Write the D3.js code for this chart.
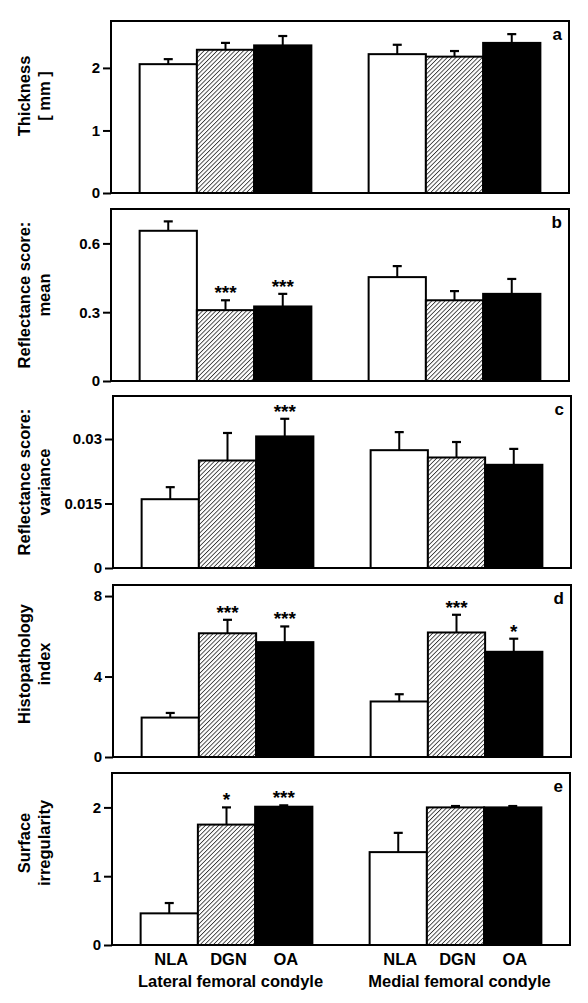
<!DOCTYPE html>
<html>
<head>
<meta charset="utf-8">
<script src="https://cdn.jsdelivr.net/npm/d3@7"></script>
<style>
  html, body { margin: 0; padding: 0; background: #fff; }
  svg { display: block; }
  text { font-family: "Liberation Sans", Arial, sans-serif; font-weight: bold; fill: #000; }
</style>
</head>
<body>
<script>
// ---------------- data ----------------
const categories = ["NLA", "DGN", "OA"];
const sites = ["Lateral femoral condyle", "Medial femoral condyle"];
const panelLetters = ["a", "b", "c", "d", "e"];
const yLabels = [
  ["Thickness", "[ mm ]"],
  ["Reflectance score:", "mean"],
  ["Reflectance score:", "variance"],
  ["Histopathology", "index"],
  ["Surface", "irregularity"]
];
const yMax = [2.75, 0.75, 0.04, 8.55, 2.5];
const yTicks = [
  [0, 1, 2],
  [0, 0.3, 0.6],
  [0, 0.015, 0.03],
  [0, 4, 8],
  [0, 1, 2]
];
const yTickLabels = [
  ["0", "1", "2"],
  ["0", "0.3", "0.6"],
  ["0", "0.015", "0.03"],
  ["0", "4", "8"],
  ["0", "1", "2"]
];
// means [lateral, medial] per panel
const thicknessMean   = [[2.06, 2.29, 2.36], [2.22, 2.18, 2.40]];
const thicknessErr    = [[0.08, 0.11, 0.15], [0.15, 0.09, 0.14]];
const reflMean        = [[0.655, 0.309, 0.325], [0.453, 0.352, 0.380]];
const reflMeanErr     = [[0.041, 0.043, 0.055], [0.048, 0.040, 0.065]];
const reflVar         = [[0.0160, 0.0250, 0.0306], [0.0274, 0.0257, 0.0240]];
const reflVarErr      = [[0.0028, 0.0064, 0.0041], [0.0042, 0.0036, 0.0037]];
const histoIndex      = [[1.96, 6.15, 5.71], [2.76, 6.19, 5.23]];
const histoIndexErr   = [[0.23, 0.67, 0.78], [0.36, 0.88, 0.65]];
const surfaceIrr      = [[0.46, 1.75, 2.01], [1.35, 2.00, 2.00]];
const surfaceIrrErr   = [[0.15, 0.25, 0.02], [0.28, 0.02, 0.02]];
const significance = [
  [["", "", ""], ["", "", ""]],
  [["", "***", "***"], ["", "", ""]],
  [["", "", "***"], ["", "", ""]],
  [["", "***", "***"], ["", "***", "*"]],
  [["", "*", "***"], ["", "", ""]]
];
const means = [thicknessMean, reflMean, reflVar, histoIndex, surfaceIrr];
const errs  = [thicknessErr, reflMeanErr, reflVarErr, histoIndexErr, surfaceIrrErr];

// ---------------- layout ----------------
const W = 588, H = 1003;
const boxes = [
  {top: 21,  bottom: 193, left: 111, right: 569, labelY: 96},
  {top: 209, bottom: 381, left: 111, right: 569, labelY: 295},
  {top: 396, bottom: 568, left: 113, right: 571, labelY: 482},
  {top: 585, bottom: 757, left: 113, right: 571, labelY: 664},
  {top: 773, bottom: 945, left: 112, right: 570, labelY: 843}
];

const svg = d3.select("body").append("svg").attr("width", W).attr("height", H);

// hatch pattern
const defs = svg.append("defs");
const P = 3.1;
const pat = defs.append("pattern")
  .attr("id", "hatch").attr("patternUnits", "userSpaceOnUse")
  .attr("width", P).attr("height", P)
  .attr("patternTransform", "rotate(45)");
pat.append("rect").attr("width", P).attr("height", P).attr("fill", "#fff");
pat.append("line").attr("x1", 0).attr("y1", 0).attr("x2", 0).attr("y2", P)
  .attr("stroke", "#333").attr("stroke-width", 1.7);

const fills = {NLA: "#fff", DGN: "url(#hatch)", OA: "#000"};
const slotKeys = [];
sites.forEach((s, si) => {
  categories.forEach(c => slotKeys.push(si + "-" + c));
  if (si === 0) slotKeys.push("gap");
});

boxes.forEach((b, pi) => {
  const g = svg.append("g");
  const x = d3.scaleBand().domain(slotKeys).range([b.left, b.right])
    .paddingInner(0).paddingOuter(0.5);
  const y = d3.scaleLinear().domain([0, yMax[pi]]).range([b.bottom, b.top]);

  const data = [];
  sites.forEach((s, si) => categories.forEach((c, ci) => {
    data.push({key: si + "-" + c, cat: c, v: means[pi][si][ci], e: errs[pi][si][ci], sig: significance[pi][si][ci]});
  }));

  // bars
  g.selectAll("rect.bar").data(data).join("rect")
    .attr("class", "bar")
    .attr("x", d => x(d.key)).attr("width", x.bandwidth())
    .attr("y", d => y(d.v)).attr("height", d => y(0) - y(d.v))
    .attr("fill", d => fills[d.cat])
    .attr("stroke", "#000").attr("stroke-width", 2);

  // error bars
  const eg = g.selectAll("g.err").data(data).join("g").attr("class", "err");
  eg.append("line")
    .attr("x1", d => x(d.key) + x.bandwidth() / 2).attr("x2", d => x(d.key) + x.bandwidth() / 2)
    .attr("y1", d => y(d.v)).attr("y2", d => y(d.v + d.e))
    .attr("stroke", "#000").attr("stroke-width", 2);
  eg.append("line")
    .attr("x1", d => x(d.key) + x.bandwidth() / 2 - 4.5).attr("x2", d => x(d.key) + x.bandwidth() / 2 + 4.5)
    .attr("y1", d => y(d.v + d.e)).attr("y2", d => y(d.v + d.e))
    .attr("stroke", "#000").attr("stroke-width", 2.2);

  // significance stars
  g.selectAll("text.sig").data(data.filter(d => d.sig)).join("text")
    .attr("class", "sig")
    .attr("x", d => x(d.key) + x.bandwidth() / 2)
    .attr("y", d => y(d.v + d.e) - 1)
    .attr("text-anchor", "middle")
    .style("font-size", "19px")
    .text(d => d.sig);

  // frame
  g.append("rect")
    .attr("x", b.left).attr("y", b.top)
    .attr("width", b.right - b.left).attr("height", b.bottom - b.top)
    .attr("fill", "none").attr("stroke", "#000").attr("stroke-width", 2);

  // y axis
  const ax = g.append("g").attr("transform", `translate(${b.left},0)`)
    .call(d3.axisLeft(y).tickValues(yTicks[pi]).tickSize(8).tickPadding(3)
      .tickFormat((d, i) => yTickLabels[pi][i]));
  ax.select(".domain").remove();
  ax.selectAll(".tick line").attr("stroke", "#000").attr("stroke-width", 2);
  ax.selectAll(".tick text")
    .style("font-family", "'Liberation Sans', Arial, sans-serif")
    .style("font-weight", "bold").style("font-size", "15px").attr("fill", "#000");

  // y label
  const lab = g.append("text")
    .attr("transform", `translate(0,${b.labelY}) rotate(-90)`)
    .attr("text-anchor", "middle")
    .style("font-size", "16.5px");
  lab.append("tspan").attr("x", 0).attr("y", 30).text(yLabels[pi][0]);
  lab.append("tspan").attr("x", 0).attr("y", 50).text(yLabels[pi][1]);

  // panel letter
  g.append("text")
    .attr("x", b.right - 7).attr("y", b.top + 19)
    .attr("text-anchor", "end")
    .style("font-size", "17px")
    .text(panelLetters[pi]);

  // x labels on last panel
  if (pi === boxes.length - 1) {
    g.selectAll("text.cat").data(data).join("text")
      .attr("class", "cat")
      .attr("x", d => x(d.key) + x.bandwidth() / 2 + 2)
      .attr("y", 965)
      .attr("text-anchor", "middle")
      .style("font-size", "16.5px")
      .text(d => d.cat);
    g.selectAll("text.site").data(sites).join("text")
      .attr("class", "site")
      .attr("x", (s, si) => {
        const k0 = si + "-" + categories[0], k1 = si + "-" + categories[categories.length - 1];
        return (x(k0) + x(k1) + x.bandwidth()) / 2 + 4;
      })
      .attr("y", 987)
      .attr("text-anchor", "middle")
      .style("font-size", "16.5px")
      .text(s => s);
  }
});
</script>
</body>
</html>
